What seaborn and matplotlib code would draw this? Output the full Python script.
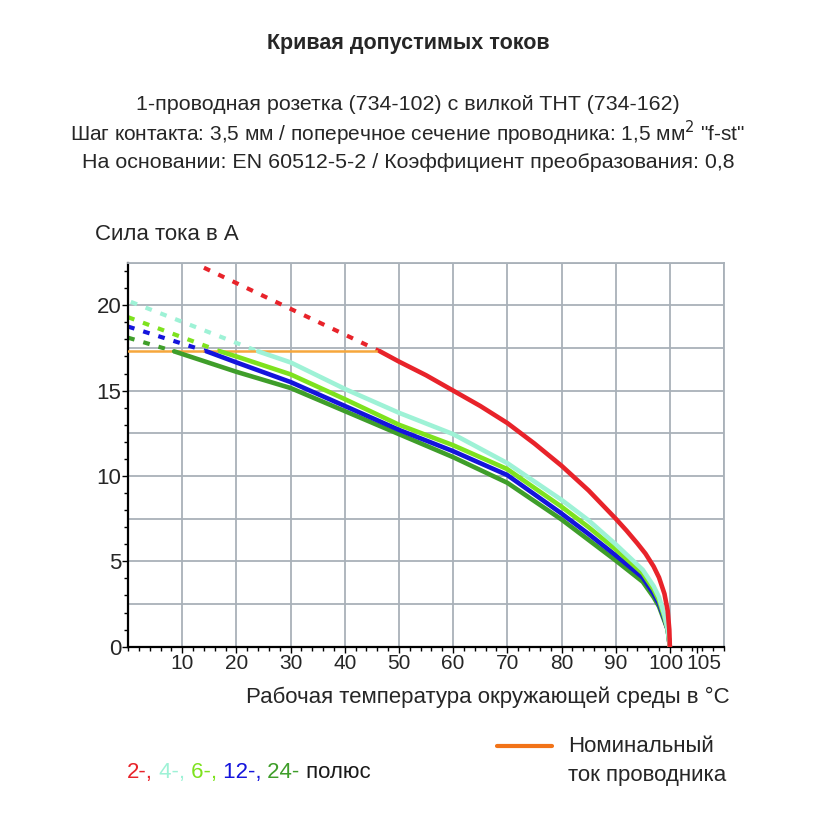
import numpy as np
import matplotlib
matplotlib.use("Agg")
import matplotlib.pyplot as plt
from matplotlib.lines import Line2D
from matplotlib.text import Annotation
from matplotlib.transforms import ScaledTranslation
import seaborn as sns

# solid parts of the curves (temperature in °C, current in A)
red_t = [46.5, 50, 55, 60, 65, 70, 75, 80, 85, 90, 92, 94, 95.5, 97, 98, 99, 99.6, 99.9, 100]
red_i = [17.3, 16.7, 15.9, 15.0, 14.1, 13.1, 11.9, 10.6, 9.15, 7.5, 6.8, 6.05, 5.45, 4.7, 4.05, 3.1, 2.1, 1.0, 0.0]

cyan_t = [24, 30, 40, 50, 60, 70, 80, 85, 90, 95, 97, 98, 99, 99.6, 100]
cyan_i = [17.3, 16.65, 15.1, 13.7, 12.45, 10.75, 8.6, 7.4, 6.0, 4.5, 3.55, 2.9, 1.85, 1.0, 0.0]

lgreen_t = [17, 20, 30, 40, 50, 60, 70, 80, 85, 90, 95, 97, 98, 99, 99.6, 100]
lgreen_i = [17.3, 17.0, 15.95, 14.5, 13.0, 11.8, 10.4, 8.2, 7.0, 5.7, 4.3, 3.35, 2.7, 1.7, 1.0, 0.0]

blue_t = [14.5, 20, 30, 40, 50, 60, 70, 80, 85, 90, 95, 97, 98, 99, 99.6, 100]
blue_i = [17.3, 16.65, 15.5, 14.1, 12.7, 11.45, 10.05, 7.8, 6.6, 5.35, 4.05, 3.1, 2.5, 1.6, 1.0, 0.0]

dgreen_t = [8.5, 20, 30, 40, 50, 60, 70, 80, 85, 90, 95, 97, 98, 99, 99.6, 100]
dgreen_i = [17.3, 16.1, 15.15, 13.8, 12.45, 11.1, 9.6, 7.45, 6.25, 5.05, 3.8, 2.9, 2.35, 1.5, 1.0, 0.0]

# dashed extrapolation above nominal current
red_ext_t, red_ext_i = [14, 46.5], [22.2, 17.3]
cyan_ext_t, cyan_ext_i = [0.5, 24], [20.2, 17.3]
lgreen_ext_t, lgreen_ext_i = [0, 17], [19.3, 17.3]
blue_ext_t, blue_ext_i = [0, 14.5], [18.75, 17.3]
dgreen_ext_t, dgreen_ext_i = [0, 8.5], [18.1, 17.3]

# nominal conductor current
nominal_t = [0, 46.5]
nominal_i = [17.3, 17.3]

poles = ["2-", "4-", "6-", "12-", "24-"]
colors = ["#e8232a", "#9ef2d6", "#7ee21e", "#1414dc", "#3f9e2a"]

x_ticks = [10, 20, 30, 40, 50, 60, 70, 80, 90, 100, 105]
y_ticks = [0, 5, 10, 15, 20]

sns.set_theme(style="white")
plt.rcParams['font.family'] = ['Liberation Sans Narrow', 'Liberation Sans', 'DejaVu Sans']
plt.rcParams['axes.unicode_minus'] = False

fig = plt.figure(figsize=(8.17, 8.17), dpi=100)
ax = fig.add_axes([0.1568, 0.2085, 0.7294, 0.4701])

ax.set_xlim(0, 110)
ax.set_ylim(0, 22.5)

grid_c = "#a9b1b9"
for gx in np.arange(10, 111, 10):
    ax.axvline(gx, color=grid_c, lw=1.3, zorder=0)
for gy in np.arange(2.5, 22.6, 2.5):
    ax.axhline(gy, color=grid_c, lw=1.3, zorder=0)

ext = [(red_ext_t, red_ext_i), (cyan_ext_t, cyan_ext_i), (lgreen_ext_t, lgreen_ext_i),
       (blue_ext_t, blue_ext_i), (dgreen_ext_t, dgreen_ext_i)]
solid = [(red_t, red_i), (cyan_t, cyan_i), (lgreen_t, lgreen_i),
         (blue_t, blue_i), (dgreen_t, dgreen_i)]

for (t, i), c in zip(ext, colors):
    sns.lineplot(x=t, y=i, color=c, lw=3.0, ax=ax, sort=False,
                 estimator=None, linestyle=(0, (1.6, 2.2)), zorder=2)

sns.lineplot(x=nominal_t, y=nominal_i, color="#f6a73c", lw=1.8, ax=ax, sort=False,
             estimator=None, zorder=3)

for (t, i), c in zip(solid[::-1], colors[::-1]):
    sns.lineplot(x=t, y=i, color=c, lw=3.3, ax=ax, sort=False, estimator=None, zorder=4)

ax.set_xticks(x_ticks)
ax.set_xticklabels([str(v) for v in x_ticks])
ax.set_yticks(y_ticks)
ax.set_yticklabels([str(v) for v in y_ticks])
ax.set_xticks(np.arange(0, 111, 2), minor=True)
ax.set_yticks(np.arange(0, 22.6, 1), minor=True)
ax.tick_params(axis="x", which="major", labelsize=15)
ax.tick_params(axis="y", which="major", labelsize=16)
ax.tick_params(axis="both", which="major", color="black", length=4,
               width=1, direction="out", pad=1)
ax.tick_params(axis="both", which="minor", color="black", length=3, width=1, direction="out")
ax.tick_params(bottom=True, left=True, which="both")

# squeeze 100 / 105 apart a little
xl = ax.get_xticklabels()
xl[-2].set_transform(xl[-2].get_transform() + ScaledTranslation(-4 / 100, 0, fig.dpi_scale_trans))
xl[-1].set_transform(xl[-1].get_transform() + ScaledTranslation(7 / 100, 0, fig.dpi_scale_trans))

for side in ["left", "bottom"]:
    ax.spines[side].set_color("black")
    ax.spines[side].set_linewidth(1.6)
for side in ["top", "right"]:
    ax.spines[side].set_color(grid_c)
    ax.spines[side].set_linewidth(1.3)

# titles and labels
fig.text(0.4994, 0.947, "Кривая допустимых токов", ha="center", va="center",
         fontsize=15.5, fontweight="bold")
sub = ["1-проводная розетка (734-102) с вилкой THT (734-162)",
       "Шаг контакта: 3,5 мм / поперечное сечение проводника: 1,5 мм$^2$ \"f-st\"",
       "На основании: EN 60512-5-2 / Коэффициент преобразования: 0,8"]
sub_sizes = [15.4, 15, 15.4]
for k, line in enumerate(sub):
    fig.text(0.4994, 0.8727 - k * 0.0355, line, ha="center", va="center",
             fontsize=sub_sizes[k])

fig.text(0.116, 0.7124, "Сила тока в А", ha="left", va="center", fontsize=16)
fig.text(0.597, 0.1469, "Рабочая температура окружающей среды в °C", ha="center",
         va="center", fontsize=16)

# colored pole legend, each piece anchored to the previous one
anchor = fig.text(0.1555, 0.0539, poles[0] + ",", color=colors[0], fontsize=16,
                  ha="left", va="center")
for k in range(1, len(poles)):
    label = " " + poles[k] + ("," if k < len(poles) - 1 else "")
    anchor = fig.add_artist(Annotation(
        label, xy=(1, 0), xycoords=anchor, xytext=(0, 0), textcoords="offset points",
        color=colors[k], fontsize=16, ha="left", va="bottom"))
fig.add_artist(Annotation(
    " полюс", xy=(1, 0), xycoords=anchor, xytext=(0, 0), textcoords="offset points",
    color="#1a1a1a", fontsize=16, ha="left", va="bottom"))

fig.add_artist(Line2D([0.6083, 0.6756], [0.0869, 0.0869], transform=fig.transFigure,
                      color="#f27318", lw=3))
fig.text(0.6952, 0.0869, "Номинальный", ha="left", va="center", fontsize=16)
fig.text(0.6952, 0.0502, "ток проводника", ha="left", va="center", fontsize=16)

fig.savefig("out.png", dpi=100)
